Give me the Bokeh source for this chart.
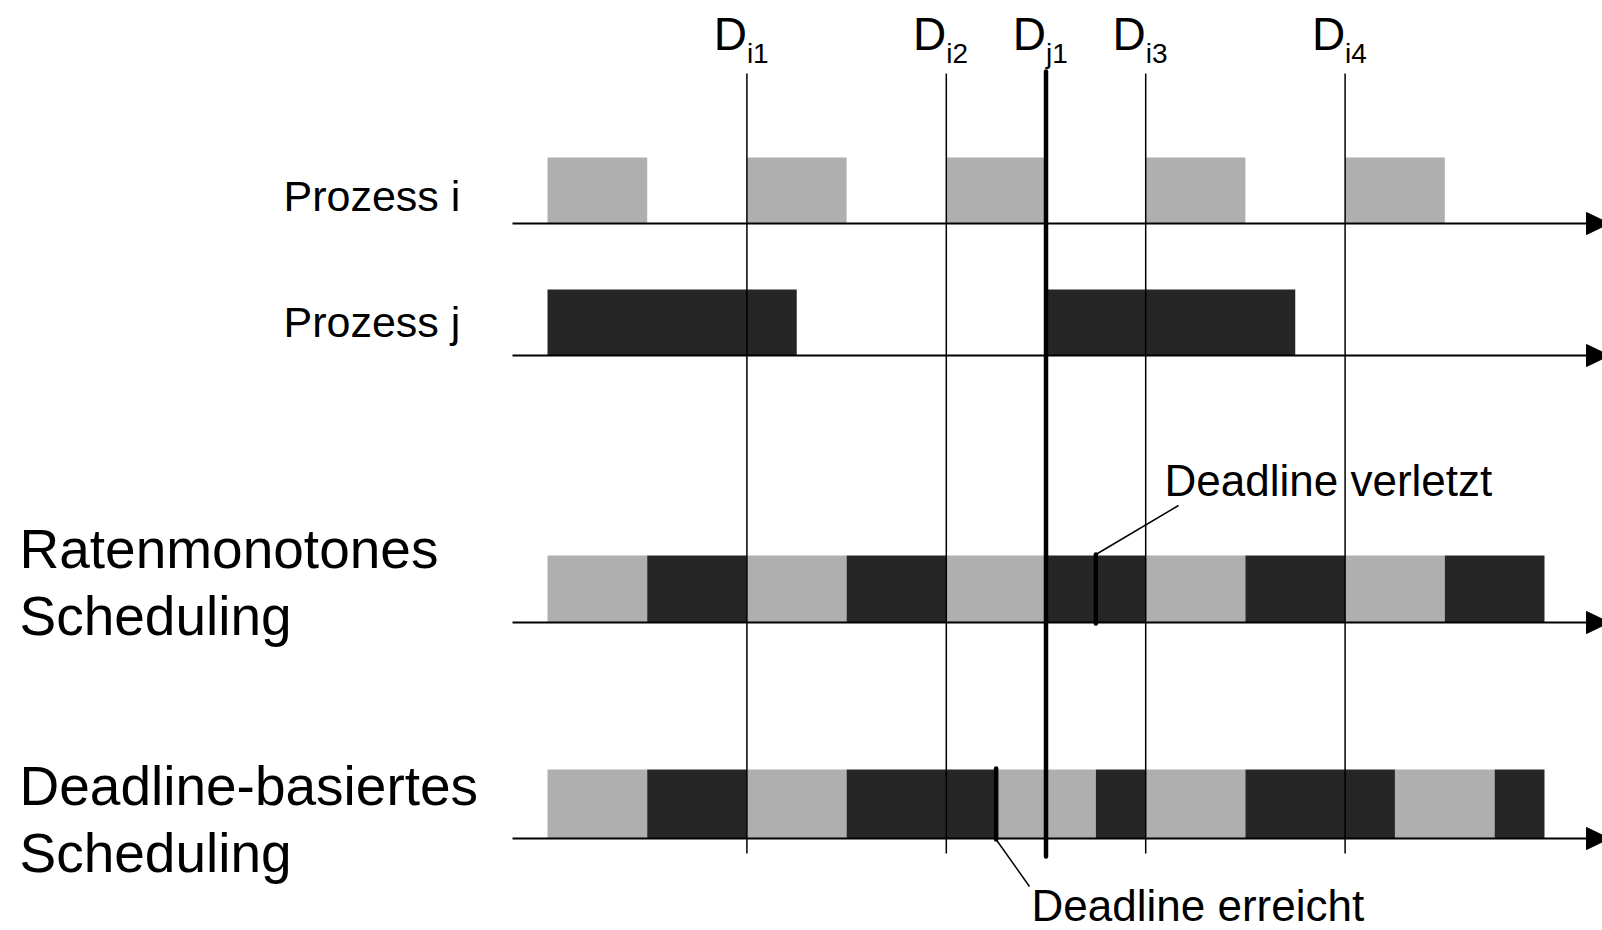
from bokeh.plotting import figure
from bokeh.models import Range1d
from bokeh.core.properties import value
from bokeh.embed import file_html
from bokeh.resources import INLINE

# ---------------- data (time units) ----------------
proc_i_start = [0, 2, 4, 6, 8]
proc_i_end = [1, 3, 5, 7, 9]
proc_j_start = [0, 5]
proc_j_end = [2.5, 7.5]

rm_start = [0, 1, 2, 3, 4, 5, 6, 7, 8, 9]
rm_end = [1, 2, 3, 4, 5, 6, 7, 8, 9, 10]
rm_proc = ["i", "j", "i", "j", "i", "j", "i", "j", "i", "j"]

edf_start = [0, 1, 2, 3, 4.5, 5.5, 6, 7, 8.5, 9.5]
edf_end = [1, 2, 3, 4.5, 5.5, 6, 7, 8.5, 9.5, 10]
edf_proc = ["i", "j", "i", "j", "i", "j", "i", "j", "i", "j"]

deadline_names = ["i1", "i2", "j1", "i3", "i4"]
deadline_times = [2, 4, 5, 6, 8]

rm_violation_time = 5.5
edf_met_time = 4.5

row_labels = ["Prozess i", "Prozess j"]
sched_labels = [["Ratenmonotones", "Scheduling"], ["Deadline-basiertes", "Scheduling"]]
note_labels = ["Deadline verletzt", "Deadline erreicht"]

# ---------------- layout (page pixels) ----------------
W, H = 1602, 930
PAGE_OFF = 0
X0 = 547.0          # page x of t = 0
PPU = 99.7          # pixels per time unit


def tx(px):
    return (px - X0) / PPU


def by(baseline, size):
    # empirical correction so the rendered baseline lands on `baseline`
    return baseline - 0.31 * size


GRAY = "#AFAFAF"
DARK = "#262626"
FONT = value("Liberation Sans")
COL = {"i": GRAY, "j": DARK}

p = figure(width=W, height=H, output_backend="svg", toolbar_location=None,
           x_range=Range1d(tx(PAGE_OFF), tx(PAGE_OFF + W)),
           y_range=Range1d(PAGE_OFF + H, PAGE_OFF),
           min_border=0, outline_line_color=None, background_fill_color="white")
p.xaxis.visible = False
p.yaxis.visible = False
p.xgrid.visible = False
p.ygrid.visible = False

rows = [(223, 157), (355, 289), (622, 555), (838, 769)]

# blocks
p.quad(left=proc_i_start, right=proc_i_end, bottom=rows[0][0], top=rows[0][1],
       fill_color=GRAY, line_color=None)
p.quad(left=proc_j_start, right=proc_j_end, bottom=rows[1][0], top=rows[1][1],
       fill_color=DARK, line_color=None)
p.quad(left=rm_start, right=rm_end, bottom=rows[2][0], top=rows[2][1],
       fill_color=[COL[c] for c in rm_proc], line_color=None)
p.quad(left=edf_start, right=edf_end, bottom=rows[3][0], top=rows[3][1],
       fill_color=[COL[c] for c in edf_proc], line_color=None)

# time axes with arrows
ax_start, ax_end, tip = tx(512), tx(1586), tx(1609)
for yb, _ in rows:
    p.line([ax_start, ax_end], [yb, yb], line_color="black", line_width=2)
    p.patch([ax_end, tip, ax_end], [yb - 11, yb, yb + 11],
            fill_color="black", line_color="black", line_width=1)

# deadline lines
for name, t in zip(deadline_names, deadline_times):
    if name.startswith("j"):
        p.line([t, t], [71, 856], line_color="black", line_width=4.5, line_cap="round")
    else:
        p.line([t, t], [73, 853], line_color="black", line_width=1.5)

# deadline labels
n = len(deadline_times)
p.text(x=deadline_times, y=[by(48, 46)] * n, text=["D"] * n,
       text_font=FONT, text_font_size="46px", text_align="right",
       text_baseline="alphabetic", text_color="black")
p.text(x=deadline_times, y=[by(62, 28)] * n, text=deadline_names,
       text_font=FONT, text_font_size="28px", text_align="left",
       text_baseline="alphabetic", text_color="black")

# markers
p.line([rm_violation_time] * 2, [rows[2][1] - 1, rows[2][0] + 1], line_color="black",
       line_width=4.5, line_cap="round")
p.line([edf_met_time] * 2, [rows[3][1] - 1, rows[3][0] + 1], line_color="black",
       line_width=4.5, line_cap="round")
p.line([rm_violation_time, tx(1178)], [rows[2][1] - 1, 505], line_color="black", line_width=1.5)
p.line([edf_met_time, tx(1029)], [rows[3][0] + 1, 886], line_color="black", line_width=1.5)

# texts
p.text(x=[tx(283), tx(283)], y=[by(209, 43), by(335, 43)], text=row_labels, text_font=FONT,
       text_font_size="43px", text_align="left", text_baseline="alphabetic",
       text_color="black")
p.text(x=[tx(19)] * 4, y=[by(v, 55) for v in (566, 633, 803, 870)],
       text=sched_labels[0] + sched_labels[1], text_font=FONT,
       text_font_size="55px", text_align="left", text_baseline="alphabetic",
       text_color="black")
p.text(x=[tx(1164), tx(1031)], y=[by(494, 44), by(919, 44)], text=note_labels, text_font=FONT,
       text_font_size="44px", text_align="left", text_baseline="alphabetic",
       text_color="black")

open("out.html", "w").write(file_html(p, INLINE))
